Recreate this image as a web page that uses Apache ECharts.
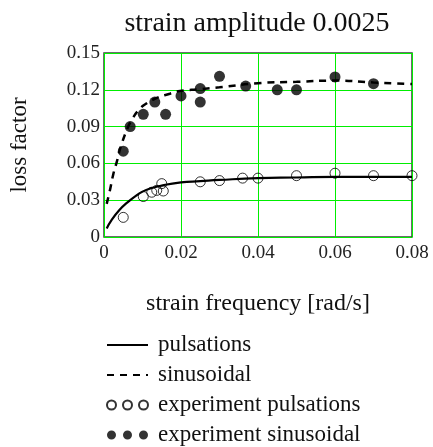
<!DOCTYPE html>
<html>
<head>
<meta charset="utf-8">
<script src="https://cdn.jsdelivr.net/npm/echarts@6/dist/echarts.min.js"></script>
<style>
  html, body { margin: 0; padding: 0; background: #fff; }
  #chart { width: 433px; height: 447px; }
</style>
</head>
<body>
<div id="chart"></div>
<script>
  // model curves
  var pulsationsX = [0.0007, 0.002, 0.004, 0.006, 0.008, 0.010, 0.012, 0.015, 0.020, 0.025, 0.030, 0.040, 0.050, 0.060, 0.070, 0.080];
  var pulsationsY = [0.007, 0.014, 0.022, 0.028, 0.033, 0.037, 0.0395, 0.042, 0.0445, 0.0455, 0.0465, 0.048, 0.0485, 0.049, 0.049, 0.049];
  var sinusoidalX = [0.0007, 0.0016, 0.0024, 0.0033, 0.0044, 0.0063, 0.0075, 0.009, 0.0106, 0.0132, 0.0171, 0.0197, 0.025, 0.030, 0.040, 0.050, 0.060, 0.070, 0.080];
  var sinusoidalY = [0.027, 0.039, 0.051, 0.061, 0.074, 0.090, 0.097, 0.1035, 0.108, 0.1127, 0.1168, 0.119, 0.1205, 0.122, 0.1254, 0.1265, 0.1275, 0.126, 0.1247];

  // measured points
  var expPulsX = [0.005, 0.0102, 0.0124, 0.0137, 0.015, 0.0154, 0.025, 0.030, 0.036, 0.040, 0.050, 0.060, 0.070, 0.080];
  var expPulsY = [0.016, 0.033, 0.0365, 0.038, 0.0435, 0.0375, 0.045, 0.046, 0.048, 0.048, 0.050, 0.052, 0.050, 0.050];
  var expSinX = [0.005, 0.0068, 0.0102, 0.0132, 0.016, 0.020, 0.025, 0.025, 0.030, 0.0368, 0.045, 0.050, 0.060, 0.070];
  var expSinY = [0.070, 0.090, 0.100, 0.110, 0.100, 0.115, 0.121, 0.110, 0.131, 0.123, 0.120, 0.120, 0.1305, 0.125];

  var xTicks = [0, 0.02, 0.04, 0.06, 0.08];
  var yTicks = [0, 0.03, 0.06, 0.09, 0.12, 0.15];

  function pairs(xs, ys) {
    return xs.map(function (x, i) { return [x, ys[i]]; });
  }
  function tickText(v) {
    return v === 0 ? '0' : v.toFixed(2);
  }

  var serif = "'Liberation Serif', 'Times New Roman', serif";
  // three small circles for the experiment legend rows
  var threeDots = 'path://M0,4.5A4.5,4.5 0 1,0 9,4.5A4.5,4.5 0 1,0 0,4.5Z' +
    'M16,4.5A4.5,4.5 0 1,0 25,4.5A4.5,4.5 0 1,0 16,4.5Z' +
    'M32,4.5A4.5,4.5 0 1,0 41,4.5A4.5,4.5 0 1,0 32,4.5Z';

  var chart = echarts.init(document.getElementById('chart'));
  var option = {
    backgroundColor: '#fff',
    animation: false,
    title: {
      text: 'strain amplitude 0.0025',
      left: 257,
      textAlign: 'center',
      top: 10,
      padding: 0,
      textStyle: {fontFamily: serif, fontSize: 28, fontWeight: 'normal', color: '#111'}
    },
    grid: {
      left: 104, right: 21, top: 53, bottom: 210,
      show: true,
      borderColor: '#3c3c3c',
      borderWidth: 1.5
    },
    legend: {
      orient: 'vertical',
      left: 106,
      top: 333,
      padding: 0,
      itemWidth: 41,
      itemHeight: 9,
      itemGap: 6,
      selectedMode: false,
      textStyle: {fontFamily: serif, fontSize: 23, lineHeight: 24, color: '#111', padding: [0, 0, 0, 5]},
      data: [
        {name: 'pulsations', itemStyle: {opacity: 0}},
        {name: 'sinusoidal', itemStyle: {opacity: 0}},
        {name: 'experiment pulsations', icon: threeDots},
        {name: 'experiment sinusoidal', icon: threeDots}
      ]
    },
    xAxis: {
      type: 'value',
      min: 0, max: 0.08, interval: 0.02,
      name: 'strain frequency [rad/s]',
      nameLocation: 'middle',
      nameGap: 55,
      nameTextStyle: {fontFamily: serif, fontSize: 24, color: '#111'},
      axisLine: {show: false},
      axisTick: {show: false},
      axisLabel: {
        fontFamily: serif, fontSize: 19, color: '#222', margin: 7,
        formatter: function (v) { return xTicks.indexOf(v) >= 0 ? tickText(v) : ''; }
      },
      splitLine: {show: true, lineStyle: {color: '#00ee00', width: 1}}
    },
    yAxis: {
      type: 'value',
      min: 0, max: 0.15, interval: 0.03,
      name: 'loss factor',
      nameLocation: 'middle',
      nameRotate: 90,
      nameGap: 73,
      nameTextStyle: {fontFamily: serif, fontSize: 23, color: '#111'},
      axisLine: {show: false},
      axisTick: {show: false},
      axisLabel: {
        fontFamily: serif, fontSize: 19, color: '#222', margin: 4,
        formatter: function (v) {
          var i = yTicks.findIndex(function (t) { return Math.abs(t - v) < 1e-9; });
          return i >= 0 ? tickText(yTicks[i]) : '';
        }
      },
      splitLine: {show: true, lineStyle: {color: '#00ee00', width: 1}}
    },
    series: [
      {
        name: 'pulsations',
        type: 'line',
        smooth: true,
        symbol: 'none',
        data: pairs(pulsationsX, pulsationsY),
        lineStyle: {color: '#000', width: 2.2, type: 'solid'},
        itemStyle: {color: '#000'}
      },
      {
        name: 'sinusoidal',
        type: 'line',
        smooth: true,
        symbol: 'none',
        data: pairs(sinusoidalX, sinusoidalY),
        lineStyle: {color: '#000', width: 2.5, type: [7, 6]},
        itemStyle: {color: '#000'}
      },
      {
        name: 'experiment pulsations',
        type: 'scatter',
        symbol: 'circle',
        symbolSize: 10,
        data: pairs(expPulsX, expPulsY),
        itemStyle: {color: 'rgba(255,255,255,0)', borderColor: '#000', borderWidth: 1}
      },
      {
        name: 'experiment sinusoidal',
        type: 'scatter',
        symbol: 'circle',
        symbolSize: 11,
        data: pairs(expSinX, expSinY),
        itemStyle: {color: '#000'}
      }
    ]
  };
  chart.setOption(option);
</script>
</body>
</html>
